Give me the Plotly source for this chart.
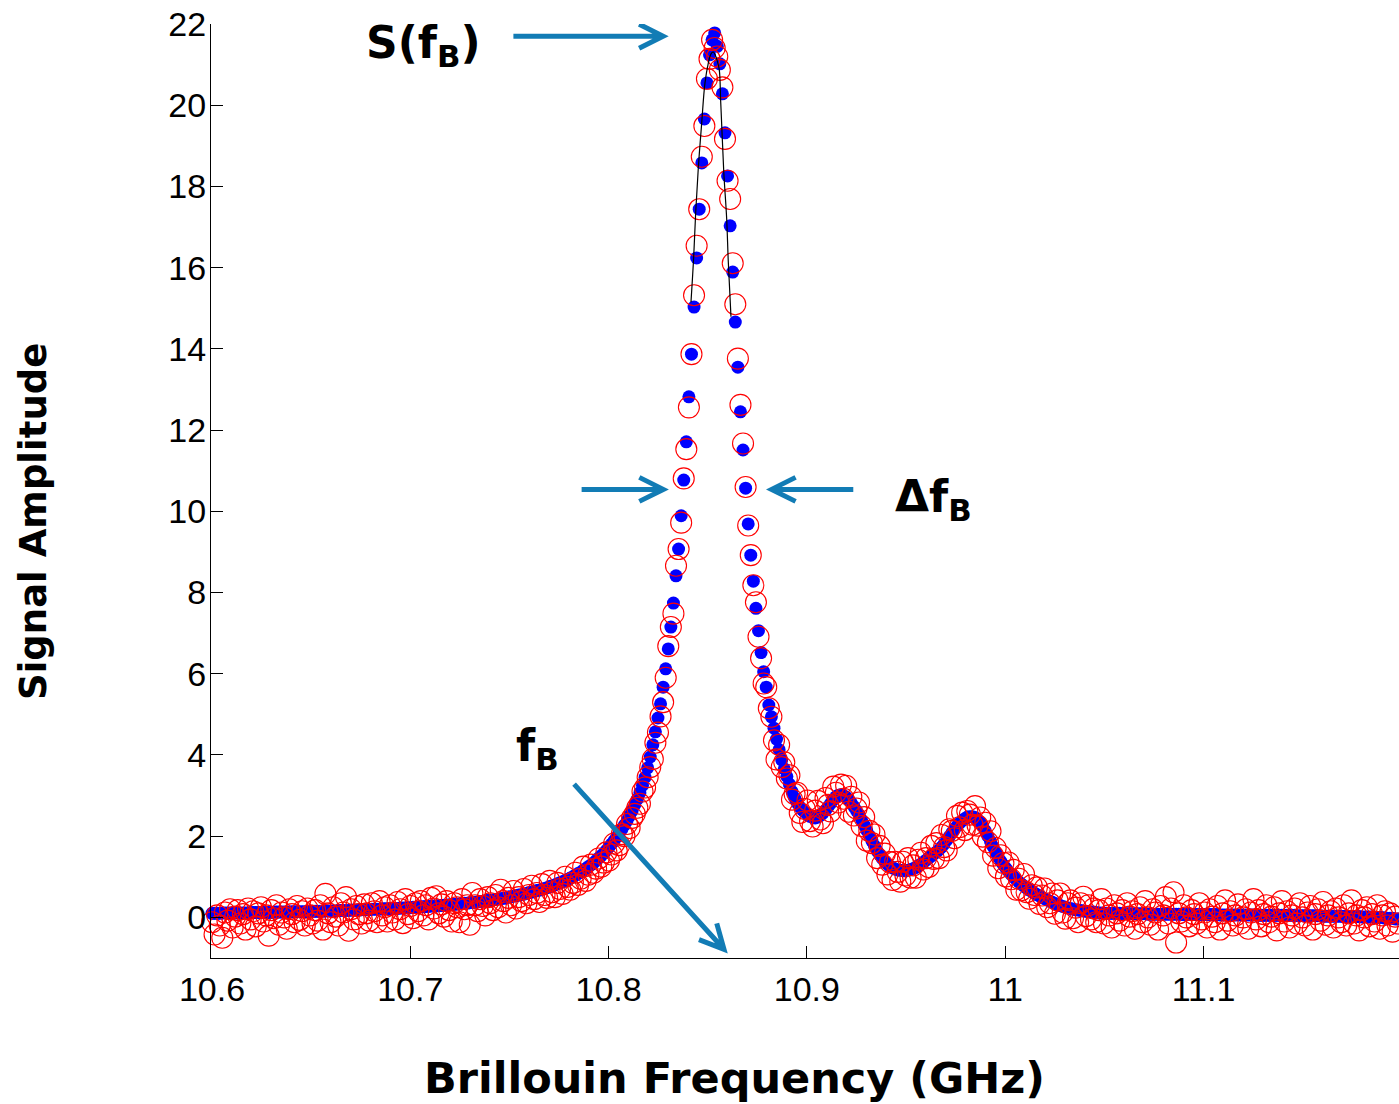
import numpy as np
import plotly.graph_objects as go

# Frequency sampling of the sweep (GHz)
f_start = 10.6
f_step = 0.0013

# Smoothed spectrum (blue dots)
smoothed = [
    0.10, 0.10, 0.10, 0.10, 0.11, 0.11, 0.11, 0.11, 0.11, 0.11, 0.11, 0.11, 0.11, 0.11, 0.11, 0.12, 0.12, 0.12, 0.12, 0.12,
    0.12, 0.12, 0.12, 0.12, 0.13, 0.13, 0.13, 0.13, 0.13, 0.13, 0.13, 0.14, 0.14, 0.14, 0.14, 0.14, 0.14, 0.14, 0.15, 0.15,
    0.15, 0.15, 0.15, 0.15, 0.16, 0.16, 0.16, 0.16, 0.16, 0.17, 0.17, 0.17, 0.17, 0.17, 0.18, 0.18, 0.18, 0.18, 0.19, 0.19,
    0.19, 0.19, 0.20, 0.20, 0.20, 0.20, 0.21, 0.21, 0.21, 0.21, 0.22, 0.22, 0.22, 0.23, 0.23, 0.23, 0.24, 0.24, 0.25, 0.25,
    0.25, 0.26, 0.26, 0.27, 0.27, 0.28, 0.28, 0.28, 0.29, 0.29, 0.30, 0.30, 0.31, 0.32, 0.32, 0.33, 0.33, 0.34, 0.35, 0.35,
    0.36, 0.37, 0.37, 0.38, 0.39, 0.40, 0.41, 0.42, 0.42, 0.43, 0.44, 0.45, 0.46, 0.47, 0.48, 0.50, 0.51, 0.52, 0.53, 0.55,
    0.56, 0.57, 0.59, 0.61, 0.62, 0.64, 0.66, 0.67, 0.69, 0.71, 0.73, 0.76, 0.78, 0.80, 0.83, 0.85, 0.88, 0.91, 0.94, 0.97,
    1.00, 1.04, 1.08, 1.11, 1.16, 1.20, 1.25, 1.29, 1.34, 1.40, 1.46, 1.52, 1.58, 1.65, 1.73, 1.81, 1.89, 1.98, 2.07, 2.17,
    2.27, 2.38, 2.50, 2.63, 2.77, 2.91, 3.07, 3.25, 3.45, 3.68, 3.95, 4.25, 4.57, 4.91, 5.26, 5.67, 6.12, 6.61, 7.15, 7.74,
    8.41, 9.07, 9.89, 10.77, 11.71, 12.82, 13.87, 15.03, 16.24, 17.44, 18.58, 19.66, 20.55, 21.24, 21.61, 21.78, 21.45, 21.02, 20.28, 19.32,
    18.26, 17.03, 15.89, 14.66, 13.55, 12.45, 11.51, 10.57, 9.69, 8.92, 8.28, 7.61, 7.06, 6.52, 6.05, 5.67, 5.23, 4.94, 4.66, 4.39,
    4.13, 3.88, 3.66, 3.47, 3.28, 3.10, 2.94, 2.82, 2.72, 2.65, 2.59, 2.53, 2.49, 2.46, 2.45, 2.47, 2.51, 2.57, 2.64, 2.72,
    2.81, 2.90, 2.97, 3.01, 3.02, 3.00, 2.96, 2.90, 2.82, 2.73, 2.63, 2.53, 2.40, 2.27, 2.14, 2.01, 1.88, 1.76, 1.64, 1.54,
    1.45, 1.37, 1.31, 1.26, 1.22, 1.19, 1.17, 1.16, 1.15, 1.15, 1.16, 1.18, 1.20, 1.23, 1.27, 1.31, 1.36, 1.41, 1.46, 1.51,
    1.56, 1.61, 1.66, 1.73, 1.81, 1.90, 1.99, 2.08, 2.17, 2.25, 2.32, 2.38, 2.43, 2.47, 2.48, 2.48, 2.46, 2.41, 2.34, 2.24,
    2.13, 2.00, 1.87, 1.74, 1.61, 1.49, 1.38, 1.29, 1.21, 1.13, 1.06, 0.99, 0.93, 0.87, 0.82, 0.77, 0.72, 0.68, 0.64, 0.60,
    0.56, 0.53, 0.49, 0.46, 0.43, 0.40, 0.37, 0.34, 0.32, 0.29, 0.27, 0.25, 0.23, 0.22, 0.20, 0.19, 0.18, 0.17, 0.16, 0.15,
    0.14, 0.13, 0.13, 0.12, 0.11, 0.11, 0.10, 0.10, 0.10, 0.10, 0.10, 0.10, 0.10, 0.09, 0.09, 0.09, 0.09, 0.09, 0.09, 0.09,
    0.09, 0.09, 0.09, 0.08, 0.08, 0.08, 0.08, 0.08, 0.08, 0.08, 0.08, 0.08, 0.08, 0.08, 0.08, 0.08, 0.07, 0.07, 0.07, 0.07,
    0.07, 0.07, 0.07, 0.07, 0.07, 0.07, 0.07, 0.07, 0.07, 0.07, 0.07, 0.06, 0.06, 0.06, 0.06, 0.06, 0.06, 0.06, 0.06, 0.06,
    0.06, 0.06, 0.06, 0.06, 0.06, 0.06, 0.05, 0.05, 0.05, 0.05, 0.05, 0.05, 0.05, 0.05, 0.05, 0.05, 0.05, 0.05, 0.05, 0.05,
    0.05, 0.04, 0.04, 0.04, 0.04, 0.04, 0.04, 0.04, 0.04, 0.04, 0.04, 0.03, 0.03, 0.03, 0.03, 0.03, 0.03, 0.03, 0.03, 0.02,
    0.02, 0.02, 0.02, 0.02, 0.02, 0.02, 0.01, 0.01, 0.01, 0.01, 0.01, 0.00, 0.00, 0.00, 0.00, -0.02, -0.02, -0.02, -0.02, -0.04,
    -0.04, -0.04,
]

# Measured spectrum (red circles)
measured = [
    -0.12, -0.42, 0.05, -0.20, -0.50, 0.12, -0.08, 0.20, -0.25, 0.02, 0.18, -0.15, 0.08, -0.30, 0.22, -0.05, 0.15, -0.22, 0.10, 0.25,
    -0.10, 0.05, -0.45, 0.18, -0.02, 0.30, -0.18, 0.12, 0.00, -0.28, 0.20, 0.08, -0.12, 0.28, -0.06, 0.15, -0.20, 0.22, 0.05, -0.15,
    0.18, -0.08, 0.30, -0.30, 0.58, 0.10, -0.12, 0.25, 0.02, -0.20, 0.35, 0.12, 0.50, -0.33, 0.20, -0.05, 0.28, 0.08, -0.15, 0.32,
    0.10, -0.08, 0.35, 0.15, -0.12, 0.40, 0.05, 0.25, -0.10, 0.30, 0.12, -0.05, 0.38, 0.20, -0.14, 0.45, 0.08, 0.28, -0.02, 0.35,
    0.15, 0.40, 0.05, 0.30, -0.05, 0.48, 0.22, 0.52, 0.10, 0.32, 0.02, 0.40, 0.18, -0.10, 0.35, 0.25, -0.12, 0.45, 0.20, 0.30,
    -0.18, 0.60, 0.30, 0.15, 0.45, 0.28, 0.05, 0.50, 0.35, 0.18, 0.55, 0.25, 0.68, 0.40, 0.12, 0.48, 0.30, 0.65, 0.22, 0.50,
    0.40, 0.70, 0.35, 0.55, 0.78, 0.45, 0.60, 0.38, 0.82, 0.55, 0.48, 0.90, 0.62, 0.50, 0.85, 0.70, 0.58, 1.00, 0.75, 0.68,
    0.85, 1.10, 0.80, 0.95, 1.25, 0.90, 1.05, 1.30, 1.10, 1.20, 1.45, 1.25, 1.35, 1.60, 1.40, 1.55, 1.82, 1.65, 1.78, 2.05,
    2.00, 2.30, 2.20, 2.45, 2.55, 2.70, 2.80, 3.10, 3.20, 3.45, 3.70, 3.90, 4.30, 4.55, 4.95, 5.30, 5.90, 6.68, 7.15, 7.48,
    8.66, 9.07, 9.72, 10.81, 11.53, 12.56, 13.87, 15.32, 16.54, 17.44, 18.73, 19.49, 20.65, 21.14, 21.61, 21.41, 21.20, 20.87, 20.44, 19.17,
    18.14, 17.69, 16.11, 15.10, 13.76, 12.62, 11.67, 10.60, 9.65, 8.92, 8.18, 7.76, 6.91, 6.38, 5.76, 5.67, 5.15, 4.94, 4.36, 3.89,
    4.25, 3.70, 3.82, 3.42, 3.50, 2.90, 3.04, 3.07, 2.57, 2.35, 2.67, 2.88, 2.37, 2.24, 2.63, 2.87, 2.41, 2.32, 2.94, 2.77,
    2.61, 3.22, 3.07, 2.83, 3.27, 2.92, 3.24, 2.60, 2.97, 2.51, 2.68, 2.83, 2.25, 2.47, 1.89, 2.13, 1.83, 2.04, 1.46, 1.76,
    1.30, 1.57, 1.06, 1.36, 0.92, 1.37, 1.12, 0.88, 1.37, 1.03, 1.46, 0.98, 1.28, 0.98, 1.42, 1.59, 1.18, 1.46, 1.24, 1.76,
    1.44, 1.83, 1.46, 2.03, 1.73, 1.65, 2.17, 2.13, 1.95, 2.50, 2.22, 2.58, 2.15, 2.62, 2.53, 2.28, 2.74, 2.26, 2.46, 1.99,
    2.33, 1.85, 2.12, 1.52, 1.71, 1.21, 1.53, 1.34, 1.01, 1.35, 0.94, 1.17, 0.68, 0.95, 0.67, 1.07, 0.62, 0.46, 0.79, 0.55,
    0.74, 0.33, 0.54, 0.71, 0.25, 0.35, 0.59, 0.09, 0.42, 0.59, 0.12, -0.03, 0.35, 0.42, -0.02, 0.24, -0.12, 0.35, 0.51, 0.03,
    0.30, -0.05, 0.22, -0.12, 0.18, 0.45, -0.15, 0.22, 0.05, -0.25, 0.30, 0.10, -0.08, 0.18, -0.20, 0.35, 0.02, 0.15, -0.28, 0.08,
    0.25, -0.12, 0.40, 0.00, -0.18, 0.20, 0.12, -0.30, 0.28, 0.05, 0.50, -0.15, 0.22, 0.62, -0.62, 0.10, -0.10, 0.30, 0.00, -0.22,
    0.18, 0.08, -0.15, 0.35, -0.05, 0.12, -0.25, 0.20, 0.02, -0.12, 0.28, -0.30, 0.10, 0.42, -0.08, 0.15, -0.20, 0.05, 0.32, -0.15,
    0.00, 0.20, -0.28, 0.12, 0.45, -0.05, 0.18, -0.22, 0.08, 0.30, -0.12, 0.02, 0.25, -0.32, 0.10, 0.40, -0.10, 0.15, -0.25, 0.05,
    0.22, -0.15, 0.35, 0.00, -0.20, 0.12, 0.28, -0.30, 0.08, 0.20, -0.08, 0.38, -0.18, 0.05, 0.15, -0.25, 0.22, 0.00, -0.12, 0.30,
    -0.20, 0.10, 0.42, -0.15, 0.05, -0.32, 0.18, 0.00, 0.25, -0.22, 0.08, -0.10, 0.30, -0.28, 0.05, 0.15, -0.20, 0.10, -0.35, 0.02,
    -0.15, 0.18,
]

# Peak fit curve (black line)
fit_freq = [10.84155, 10.84291, 10.84392, 10.84523, 10.84695, 10.84861, 10.85038, 10.85124,
            10.85199, 10.85280, 10.85366, 10.85477, 10.85583, 10.85653, 10.85719, 10.85809,
            10.85956, 10.86036, 10.86172]
fit_amp = [15.15, 16.26, 17.35, 18.45, 19.56, 20.55, 21.06, 21.22,
           21.29, 21.31, 21.25, 21.10, 20.87, 20.10, 19.35, 18.35,
           17.20, 16.15, 14.79]

x_ticks = [10.6, 10.7, 10.8, 10.9, 11.0, 11.1]
x_tick_text = ["10.6", "10.7", "10.8", "10.9", "11", "11.1"]
y_ticks = [0, 2, 4, 6, 8, 10, 12, 14, 16, 18, 20, 22]

assert len(smoothed) == len(measured)
freq = f_start + f_step * np.arange(len(smoothed))

# ---- layout geometry ----
W, H = 1399, 1104
ML, MR, MT, MB = 211, 0, 24, 146
X_RANGE = [10.5995, 11.1986]
Y_RANGE = [-1.0, 22.0]
plot_w = W - ML - MR
plot_h = H - MT - MB
sx = plot_w / (X_RANGE[1] - X_RANGE[0])   # px per GHz
sy = plot_h / (Y_RANGE[1] - Y_RANGE[0])   # px per amplitude unit

ARROW_COLOR = "#127CB5"


def arrow_shape(x0, y0, x1, y1, head=24.0, half=12.0):
    """Straight arrow with an open chevron head, built in pixel space."""
    px0, py0 = x0 * sx, -y0 * sy
    px1, py1 = x1 * sx, -y1 * sy
    dx, dy = px1 - px0, py1 - py0
    L = (dx * dx + dy * dy) ** 0.5
    ux, uy = dx / L, dy / L
    nx, ny = -uy, ux
    a1 = (px1 - head * ux + half * nx, py1 - head * uy + half * ny)
    a2 = (px1 - head * ux - half * nx, py1 - head * uy - half * ny)

    def d(p):
        return p[0] / sx, -p[1] / sy

    b1, b2 = d(a1), d(a2)
    path = (f"M {x0},{y0} L {x1},{y1} "
            f"M {b1[0]},{b1[1]} L {x1},{y1} L {b2[0]},{b2[1]}")
    return dict(type="path", path=path, xref="x", yref="y",
                line=dict(color=ARROW_COLOR, width=5), layer="above")


fig = go.Figure()

fig.add_trace(go.Scatter(
    x=freq, y=smoothed, mode="markers",
    marker=dict(symbol="circle", size=13, color="#0000FF", line=dict(width=0)),
    cliponaxis=False, showlegend=False, hoverinfo="skip"))

fig.add_trace(go.Scatter(
    x=freq, y=measured, mode="markers",
    marker=dict(symbol="circle-open", size=21, color="#FF0000",
                line=dict(width=1.1, color="#FF0000")),
    cliponaxis=False, showlegend=False, hoverinfo="skip"))

fig.add_trace(go.Scatter(
    x=fit_freq, y=fit_amp, mode="lines",
    line=dict(color="black", width=1.2, shape="spline"),
    showlegend=False, hoverinfo="skip"))

shapes = [
    arrow_shape(10.7520, 21.70, 10.8275, 21.70),
    arrow_shape(10.7864, 10.54, 10.8276, 10.54),
    arrow_shape(10.9234, 10.54, 10.8822, 10.54),
    arrow_shape(10.7826, 3.28, 10.8582, -0.785),
]

label_font = dict(family="DejaVu Sans", size=44, color="black")
annotations = [
    dict(x=10.7069, y=21.48, xref="x", yref="y", text="<b>S(f<sub>B</sub>)</b>",
         showarrow=False, font=label_font, xanchor="center", yanchor="middle"),
    dict(x=10.9638, y=10.28, xref="x", yref="y", text="<b>Δf<sub>B</sub></b>",
         showarrow=False, font=label_font, xanchor="center", yanchor="middle"),
    dict(x=10.7644, y=4.15, xref="x", yref="y", text="<b>f<sub>B</sub></b>",
         showarrow=False, font=label_font, xanchor="center", yanchor="middle"),
    dict(x=(734 - ML) / plot_w, y=(MT + plot_h - 1078) / plot_h, xref="paper", yref="paper",
         text="<b>Brillouin Frequency (GHz)</b>", showarrow=False,
         font=dict(family="DejaVu Sans", size=43, color="black"),
         xanchor="center", yanchor="middle"),
    dict(x=(33 - ML) / plot_w, y=(MT + plot_h - 522) / plot_h, xref="paper", yref="paper",
         text="<b>Signal Amplitude</b>", showarrow=False, textangle=-90,
         font=dict(family="DejaVu Sans", size=37, color="black"),
         xanchor="center", yanchor="middle"),
]

tick_font = dict(family="Liberation Sans, Arial, sans-serif", size=34, color="black")

fig.update_layout(
    width=W, height=H,
    margin=dict(l=ML, r=MR, t=MT, b=MB, pad=0),
    paper_bgcolor="white", plot_bgcolor="white",
    shapes=shapes, annotations=annotations,
    xaxis=dict(range=X_RANGE, tickmode="array", tickvals=x_ticks, ticktext=x_tick_text,
               ticks="inside", ticklen=12, tickwidth=1, tickcolor="black",
               showline=True, linecolor="black", linewidth=1,
               showgrid=False, zeroline=False, tickfont=tick_font,
               ticklabelstandoff=1),
    yaxis=dict(range=Y_RANGE, tickmode="array", tickvals=y_ticks,
               ticks="inside", ticklen=12, tickwidth=1, tickcolor="black",
               showline=True, linecolor="black", linewidth=1,
               showgrid=False, zeroline=False, tickfont=tick_font,
               ticklabelstandoff=-3),
)

fig.write_html("out.html")
